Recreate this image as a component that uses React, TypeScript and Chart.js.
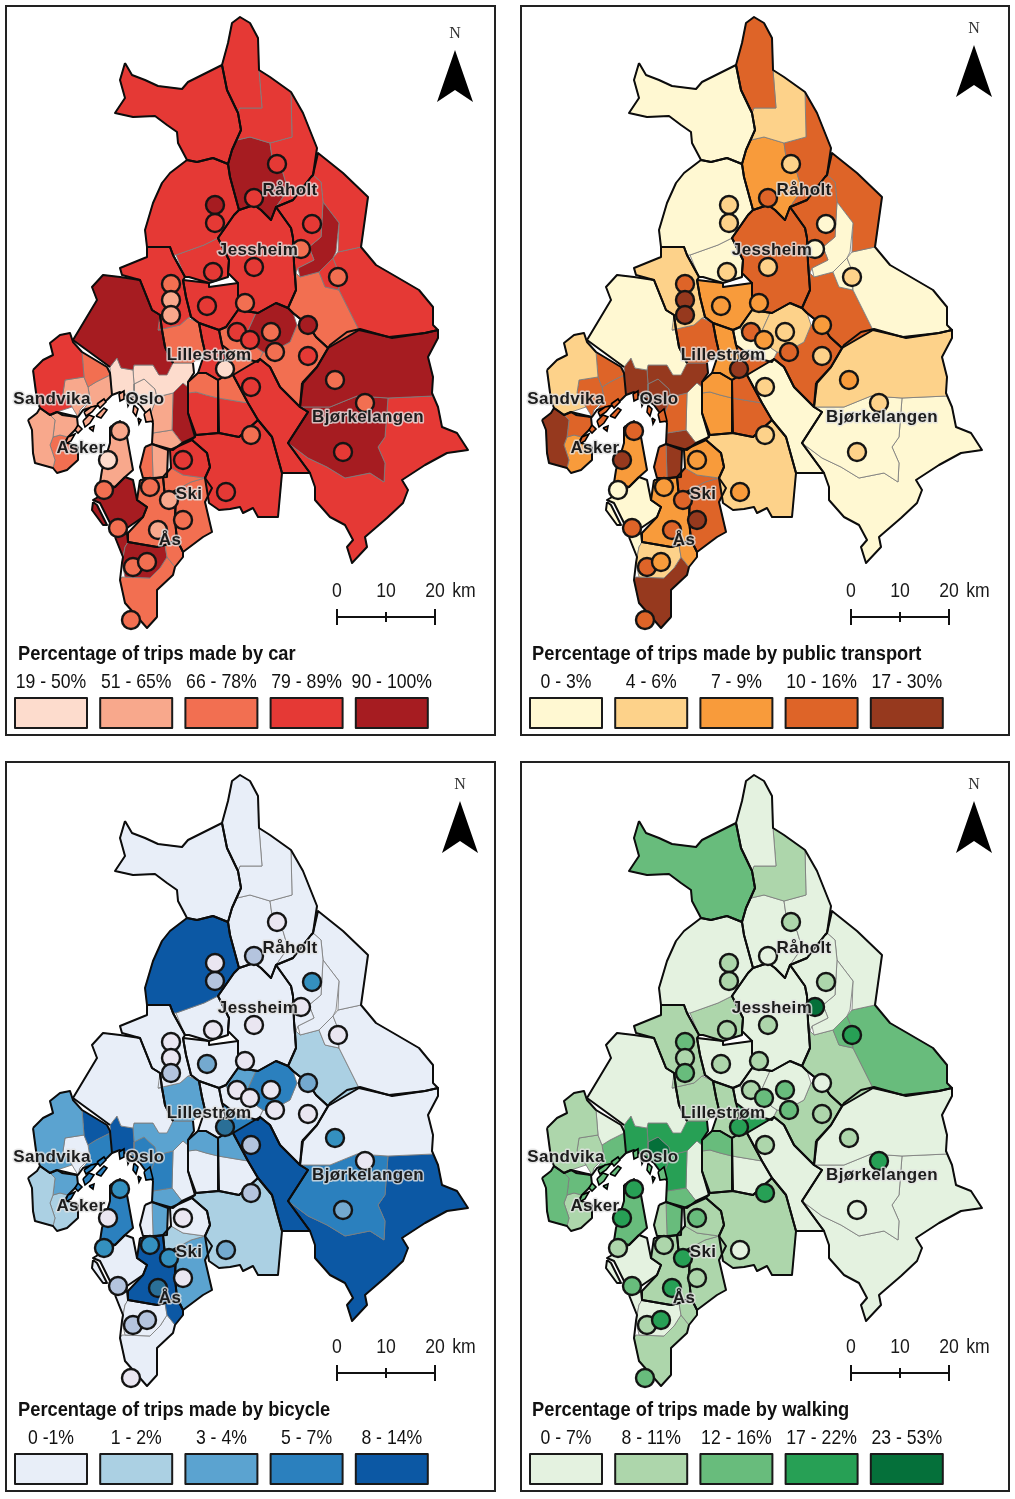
import React, { useEffect, useRef } from "react";
import { Chart, registerables } from "chart.js";
Chart.register(...registerables);

type P = number[];
// ---- region shapes, map units ----
const nw: P[] = [[125,63],[132,75],[145,80],[158,86],[182,89],[188,82],[222,65],[227,90],[238,113],[241,130],[232,150],[228,164],[213,158],[197,162],[187,160],[178,143],[177,132],[167,125],[155,116],[133,117],[115,113],[125,98],[120,80]];
const spire: P[] = [[222,65],[228,43],[232,23],[240,17],[250,23],[258,38],[259,70],[262,108],[240,108],[238,113],[227,90]];
const midNorth: P[] = [[240,108],[262,108],[259,70],[270,77],[291,92],[292,137],[270,143],[250,137],[237,140],[241,130],[238,113]];
const northEast: P[] = [[291,92],[303,113],[317,148],[313,175],[311,177],[293,200],[276,207],[288,190],[283,173],[272,157],[270,143],[292,137]];
const raholt: P[] = [[237,140],[250,137],[270,143],[272,157],[283,173],[288,190],[276,207],[271,220],[261,210],[254,205],[239,210],[230,177],[228,164],[232,150]];
const nannestadN: P[] = [[187,160],[197,162],[213,158],[228,164],[230,177],[239,210],[234,215],[218,238],[204,245],[176,255],[173,255],[170,247],[147,247],[145,230],[153,203],[162,183],[170,173]];
const nannestadS: P[] = [[176,255],[204,245],[218,238],[229,260],[228,273],[228,277],[209,283],[189,277],[185,277]];
const jessheim: P[] = [[239,210],[254,205],[261,210],[271,220],[276,207],[291,228],[293,238],[294,263],[296,290],[288,308],[276,303],[258,313],[238,310],[238,283],[228,273],[229,260],[218,238],[234,215]];
const nesWest: P[] = [[313,175],[321,182],[323,202],[321,237],[309,247],[314,260],[298,268],[296,273],[294,263],[293,238],[291,228],[276,207],[293,200],[311,177]];
const nesPatch: P[] = [[323,202],[339,223],[336,252],[333,258],[319,272],[300,277],[298,268],[314,260],[309,247],[321,237]];
const nesEast: P[] = [[318,153],[343,173],[368,197],[361,247],[338,252],[339,223],[323,202],[321,182],[313,175]];
const nesNE: P[] = [[361,247],[376,265],[395,276],[419,290],[433,307],[433,325],[438,330],[425,333],[389,337],[359,330],[339,290],[339,273],[333,258],[338,252]];
const nesSmall: P[] = [[319,272],[333,258],[339,273],[339,290],[325,287]];
const nesSouth: P[] = [[296,273],[300,277],[319,272],[325,287],[339,290],[359,330],[328,348],[316,337],[308,325],[293,313],[288,308],[296,290]];
const hvam: P[] = [[183,280],[209,283],[209,287],[238,283],[238,310],[226,327],[219,330],[199,323],[191,317],[186,297]];
const column: P[] = [[147,247],[170,247],[173,255],[185,277],[183,280],[186,297],[191,317],[188,318],[180,325],[158,330],[160,315],[152,310],[140,280],[122,275],[120,268],[147,257]];
const columnSouth: P[] = [[158,330],[180,325],[188,318],[199,323],[202,339],[205,352],[193,363],[173,363],[165,347],[162,330]];
const forest: P[] = [[92,287],[103,275],[120,277],[140,280],[152,310],[160,315],[162,330],[165,347],[173,363],[167,375],[159,375],[153,365],[134,365],[133,370],[121,368],[117,358],[110,367],[73,340],[97,300]];
const lilleDark: P[] = [[256,313],[276,303],[288,308],[293,313],[297,325],[290,342],[270,353],[263,352],[257,348],[247,333]];
const lilleWest: P[] = [[226,327],[238,310],[258,313],[256,313],[247,333],[231,340]];
const lillePale: P[] = [[219,330],[226,327],[231,340],[247,333],[257,348],[263,352],[258,362],[238,357],[222,345]];
const lilleOrange: P[] = [[199,323],[219,330],[222,345],[226,360],[223,377],[218,380],[206,373],[198,373],[205,352],[202,339]];
const lilleJunction: P[] = [[222,345],[238,357],[258,362],[260,359],[233,375],[223,377],[226,360]];
const sorum: P[] = [[270,353],[290,342],[297,325],[308,325],[316,337],[328,348],[317,367],[303,383],[300,407],[280,387],[270,367],[260,359],[258,362],[263,352]];
const band: P[] = [[233,375],[260,359],[270,367],[280,387],[300,407],[308,412],[288,443],[310,473],[282,473],[272,437],[258,420],[248,403]];
const indre: P[] = [[196,435],[219,433],[239,437],[258,420],[272,437],[282,473],[278,517],[258,517],[253,508],[243,513],[240,507],[230,509],[219,510],[209,503],[205,478],[210,467],[207,453],[192,440]];
const enebakkN: P[] = [[188,382],[198,373],[206,373],[218,380],[218,398],[206,395],[196,392],[188,393]];
const enebakkS: P[] = [[188,393],[196,392],[206,395],[218,398],[218,433],[196,435],[195,437],[188,413]];
const fetN: P[] = [[218,380],[223,377],[233,375],[243,392],[248,403],[218,398]];
const fetS: P[] = [[218,398],[248,403],[258,420],[239,437],[219,433]];
const bjorkN: P[] = [[302,383],[317,367],[330,345],[347,332],[360,329],[392,338],[425,333],[438,330],[438,338],[428,357],[433,377],[432,393],[433,396],[388,398],[357,396],[330,407],[300,407]];
const bjorkMid: P[] = [[330,407],[357,396],[388,398],[385,437],[378,447],[385,463],[384,482],[370,473],[345,478],[327,467],[308,458],[288,443],[308,412],[300,407]];
const bjorkSE: P[] = [[433,396],[438,407],[442,427],[457,433],[468,450],[447,453],[425,465],[402,480],[408,490],[403,503],[387,518],[365,537],[367,547],[352,563],[347,547],[353,540],[345,525],[330,517],[315,500],[315,487],[310,473],[288,443],[308,458],[327,467],[345,478],[370,473],[384,482],[385,463],[378,447],[385,437],[388,398]];
const osloW: P[] = [[110,367],[117,358],[121,368],[133,370],[134,384],[134,397],[120,392],[112,395]];
const osloN: P[] = [[133,370],[134,365],[153,365],[159,375],[173,363],[193,363],[194,373],[188,382],[188,387],[183,383],[173,393],[157,397],[155,389],[144,379],[134,384]];
const osloC: P[] = [[134,384],[144,379],[155,389],[157,397],[134,397]];
const osloS: P[] = [[134,397],[157,397],[150,415],[153,423],[140,405],[130,398]];
const osloE: P[] = [[157,397],[173,393],[172,430],[153,433],[153,423],[150,415]];
const osloB: P[] = [[153,433],[172,430],[182,443],[173,450],[152,444]];
const strip: P[] = [[173,393],[183,383],[188,387],[188,413],[195,437],[182,443],[172,430]];
const baerumW: P[] = [[33,370],[43,360],[53,355],[50,343],[60,335],[70,333],[73,342],[82,352],[84,377],[65,380],[63,393],[72,407],[57,412],[50,415],[40,408],[37,400]];
const baerumNE: P[] = [[82,352],[107,367],[110,375],[96,382],[88,387],[84,377]];
const baerumC: P[] = [[84,377],[88,387],[90,400],[80,410],[78,417],[72,407],[63,393],[65,380]];
const baerumE: P[] = [[88,387],[96,382],[110,375],[112,395],[107,400],[100,405],[83,410],[90,400]];
const askerW: P[] = [[28,420],[37,413],[40,408],[50,415],[55,420],[53,437],[50,445],[55,460],[53,468],[35,463],[33,453],[32,430]];
const askerN: P[] = [[50,415],[57,412],[62,415],[77,417],[78,427],[68,437],[60,435],[53,437],[55,420]];
const askerS: P[] = [[53,437],[60,435],[68,437],[65,442],[78,447],[78,460],[67,470],[57,473],[53,468],[55,460],[50,445]];
const nesodden: P[] = [[110,427],[120,421],[127,437],[133,470],[125,477],[115,487],[100,483],[102,470],[110,443]];
const frogn: P[] = [[125,477],[133,480],[137,500],[147,507],[143,517],[127,528],[110,523],[100,503],[93,500],[115,487]];
const peninsula: P[] = [[93,502],[97,505],[107,525],[103,525],[92,510]];
const oppN: P[] = [[145,447],[152,444],[153,478],[143,478],[140,467]];
const oppS: P[] = [[152,444],[168,450],[167,477],[153,478]];
const skiU: P[] = [[170,450],[192,440],[207,453],[210,467],[205,478],[183,475],[171,468]];
const skiB: P[] = [[163,477],[171,468],[183,475],[205,478],[191,482],[176,490],[165,497]];
const skiE: P[] = [[191,482],[205,478],[212,488],[205,502],[212,532],[203,537],[183,552],[177,540],[175,520],[176,490]];
const aas: P[] = [[140,480],[157,478],[163,477],[165,497],[176,490],[175,520],[177,540],[165,545],[157,547],[128,542],[128,533],[143,517],[147,507],[137,500]];
const aasS: P[] = [[165,545],[177,540],[183,552],[183,557],[175,567],[167,557]];
const vestbyN: P[] = [[125,547],[128,542],[157,547],[165,545],[167,557],[160,568],[150,578],[125,577],[122,563]];
const vestbyS: P[] = [[122,577],[150,578],[160,568],[167,557],[175,567],[173,575],[157,590],[157,617],[147,628],[125,603],[120,580]];
const drobak: P[] = [[110,523],[127,528],[128,533],[128,542],[125,547],[123,557],[115,537]];

const regionShapes: P[][] = [nw,spire,midNorth,northEast,raholt,nannestadN,nannestadS,jessheim,nesWest,nesPatch,nesEast,nesNE,nesSmall,nesSouth,hvam,column,columnSouth,forest,lilleDark,lilleWest,lillePale,lilleOrange,lilleJunction,sorum,band,indre,enebakkN,enebakkS,fetN,fetS,bjorkN,bjorkMid,bjorkSE,osloW,osloN,osloC,osloS,osloE,osloB,strip,baerumW,baerumNE,baerumC,baerumE,askerW,askerN,askerS,nesodden,frogn,peninsula,oppN,oppS,skiU,skiB,skiE,aas,aasS,vestbyN,vestbyS,drobak];
// class (1-5) of every region in each map
const carClasses = [4,4,4,4,5,4,4,4,4,5,4,4,4,3,4,4,3,5,5,4,3,4,3,3,4,4,3,4,3,4,5,5,4,1,1,1,1,2,2,5,4,3,2,2,2,2,3,2,5,5,3,2,4,3,3,3,3,5,3,5];
const ptClasses = [1,4,2,4,3,1,1,4,4,1,4,1,1,4,3,2,4,1,2,2,1,3,4,4,1,2,3,3,4,4,2,1,1,5,5,5,5,4,5,1,2,4,4,4,5,4,3,3,1,1,4,5,3,4,4,3,3,2,5,1];
const bikeClasses = [1,1,1,1,1,5,1,1,1,1,1,1,1,2,1,1,3,1,4,3,1,1,4,1,5,2,3,1,3,1,1,4,5,5,3,4,4,4,3,1,3,5,1,4,2,3,2,4,1,1,1,3,1,2,3,5,5,1,1,1];
const walkClasses = [3,1,2,1,1,1,2,1,1,1,1,3,3,2,1,2,2,1,1,1,1,2,4,2,1,2,3,2,2,1,1,1,1,4,4,5,4,4,3,1,2,1,2,3,3,3,2,3,1,1,2,3,2,2,2,2,2,1,2,1];

// ---- black municipality borders (closed) ----
const bNes: P[] = [[313,175],[318,153],[343,173],[368,197],[361,247],[376,265],[395,276],[419,290],[433,307],[433,325],[438,330],[425,333],[389,337],[359,330],[328,348],[316,337],[308,325],[293,313],[288,308],[296,290],[294,263],[293,238],[291,228],[276,207],[293,200],[311,177],[313,175]];
const bNorth: P[] = [[222,65],[228,43],[232,23],[240,17],[250,23],[258,38],[259,70],[270,77],[291,92],[303,113],[317,148],[313,175],[311,177],[293,200],[276,207],[271,220],[261,210],[254,205],[239,210],[230,177],[228,164],[232,150],[241,130],[238,113],[227,90],[222,65]];
const bMid: P[] = [[226,327],[238,310],[258,313],[276,303],[288,308],[293,313],[308,325],[316,337],[328,348],[317,367],[303,383],[300,407],[280,387],[270,367],[260,359],[258,362],[238,357],[222,345],[219,330],[226,327]];
const bNanne: P[] = [...nannestadN.slice(0,8),[218,238],[229,260],[228,273],[228,277],[209,283],[189,277],[185,277],[173,255],[170,247],[147,247],[145,230],[153,203],[162,183],[170,173],[187,160]];
const bBjork: P[] = [[302,383],[317,367],[330,345],[347,332],[360,329],[392,338],[425,333],[438,330],[438,338],[428,357],[433,377],[432,393],[438,407],[442,427],[457,433],[468,450],[447,453],[425,465],[402,480],[408,490],[403,503],[387,518],[365,537],[367,547],[352,563],[347,547],[353,540],[345,525],[330,517],[315,500],[315,487],[310,473],[288,443],[308,412],[300,407],[302,383]];
const bEnebakk: P[] = [[188,382],[198,373],[206,373],[218,380],[218,433],[196,435],[188,413],[188,382]];
const bFet: P[] = [[218,380],[223,377],[233,375],[248,403],[258,420],[239,437],[219,433],[218,380]];
const bBaerum: P[] = [[33,370],[43,360],[53,355],[50,343],[60,335],[70,333],[73,342],[82,352],[107,367],[110,373],[112,395],[107,400],[100,405],[83,410],[78,417],[57,412],[50,415],[40,408],[37,400],[33,370]];
const bAsker: P[] = [[28,420],[37,413],[40,408],[50,415],[57,412],[62,415],[77,417],[78,427],[68,437],[65,442],[78,447],[78,460],[67,470],[57,473],[53,468],[35,463],[33,453],[32,430],[28,420]];
const bOpp: P[] = [[145,447],[152,444],[168,450],[167,477],[153,478],[143,478],[140,467],[145,447]];
const bSki: P[] = [[170,450],[192,440],[207,453],[210,467],[205,478],[212,488],[205,502],[212,532],[203,537],[183,552],[177,540],[175,520],[176,490],[165,497],[163,477],[171,468],[170,450]];
const bAas: P[] = [[140,480],[157,478],[163,477],[165,497],[176,490],[175,520],[177,540],[165,545],[157,547],[128,542],[128,533],[143,517],[147,507],[137,500],[140,480]];
const bVestby: P[] = [[115,537],[127,533],[128,542],[157,547],[165,545],[177,540],[183,552],[183,557],[175,567],[173,575],[157,590],[157,617],[147,628],[125,603],[120,580],[122,563],[123,557],[115,537]];
// open border runs
const bOslo: P[] = [[193,363],[194,373],[188,382],[188,413],[195,437],[182,443],[173,450],[152,444],[153,423],[140,405],[130,398],[120,392],[112,395]];
const bForest: P[] = [[110,367],[73,340],[97,300],[92,287],[103,275],[120,277],[140,280],[152,310],[160,315],[162,330],[165,347],[173,363]];
const bColumn: P[] = [[173,363],[165,347],[162,330],[160,315],[152,310],[140,280],[122,275],[120,268],[147,257],[147,247],[170,247],[173,255],[185,277],[183,280],[186,297],[191,317],[199,323],[202,339],[205,352]];
const closedBorders: P[][] = [nw,bNorth,bNes,bNanne,jessheim,hvam,bMid,lilleOrange,band,indre,bEnebakk,bFet,bBjork,bBaerum,bAsker,bOpp,bSki,bAas,bVestby,nesodden,frogn,peninsula];
const openBorders: P[][] = [bOslo,bForest,bColumn];
// skerries in the fjord
const isles: P[][] = [
  [[84,412],[91,407],[97,406],[92,412],[86,416]],
  [[97,404],[104,399],[106,402],[100,408]],
  [[83,421],[89,415],[94,417],[90,423],[85,427]],
  [[96,416],[104,408],[107,410],[101,418]],
  [[78,425],[82,429],[78,433],[75,430]],
  [[68,437],[75,434],[71,441],[65,444]],
  [[89,428],[94,426],[93,431]],
  [[119,394],[124,391],[124,399],[120,401]],
  [[134,405],[138,409],[136,416],[133,412]],
  [[144,414],[150,409],[153,421],[146,422]],
  [[127,400],[130,402],[128,406]],
  [[138,418],[141,420],[139,424]],
];

// ---- survey points ----
const pointXs = [277,215,215,254,312,213,254,301,338,171,171,171,207,245,237,250,271,275,308,308,225,251,335,365,343,251,226,120,108,104,118,150,169,183,183,158,133,147,131];
const pointYs = [164,205,223,198,224,272,267,249,277,284,300,315,306,303,332,340,332,352,325,356,369,387,380,403,452,435,492,431,460,490,528,487,500,520,460,530,567,562,620];
const carPoints = [4,5,4,4,4,4,4,3,3,3,2,2,4,3,4,4,3,3,5,4,1,4,3,3,4,3,4,2,1,3,3,3,2,3,4,2,3,3,3];
const ptPoints = [2,2,2,4,1,2,2,1,2,4,5,5,3,3,4,3,2,4,3,2,5,2,3,2,2,2,3,4,5,1,4,3,4,5,3,4,4,3,4];
const bikePoints = [1,1,2,2,4,1,1,1,1,1,1,2,3,1,1,1,1,1,3,1,5,2,4,1,3,2,3,4,1,4,2,4,4,1,1,5,2,2,1];
const walkPoints = [2,2,2,1,2,2,2,5,4,3,2,3,2,2,2,3,3,3,1,2,4,2,2,4,1,4,1,4,4,2,3,2,4,2,3,4,2,4,3];

// ---- colours & legends ----
const reds = ["#FDDCCD","#F8A88C","#F26F51","#E53935","#A61C21"];
const oranges = ["#FFF8D2","#FDD28A","#F89B3B","#DE6428","#96391E"];
const blues = ["#E8EEF8","#ABD0E3","#5BA3D0","#2B80BE","#0C58A4"];
const greens = ["#E4F2E0","#ADD6AB","#68BC7C","#27A055","#05703A"];
const bluePoints = ["#EAE6F1","#B4C4DE","#74A9CF","#3490BF","#2A6F97"];
const placeNames = ["Råholt","Jessheim","Lillestrøm","Sandvika","Oslo","Bjørkelangen","Asker","Ski","Ås"];
const placeXs = [290,258,209,52,145,368,81,189,170];
const placeYs = [190,250,355,399,399,417,448,494,540];
const carLegend = ["19 - 50%","51 - 65%","66 - 78%","79 - 89%","90 - 100%"];
const ptLegend = ["0 - 3%","4 - 6%","7 - 9%","10 - 16%","17 - 30%"];
const bikeLegend = ["0 -1%","1 - 2%","3 - 4%","5 - 7%","8 - 14%"];
const walkLegend = ["0 - 7%","8 - 11%","12 - 16%","17 - 22%","23 - 53%"];
const scaleTicks = [0,10,20];

const W = 500, H = 741;
const SANS = '"Liberation Sans",Arial,sans-serif';

function squeezed(c: any, text: string, x: number, y: number, sx: number) {
  c.save();
  c.translate(x, y);
  c.scale(sx, 1);
  c.fillText(text, 0, 0);
  c.restore();
}

const decor = {
  id: "decor",
  afterDatasetsDraw(chart: any, _a: any, o: any) {
    const c = chart.ctx;
    const X = (v: number) => chart.scales.x.getPixelForValue(v);
    const Y = (v: number) => chart.scales.y.getPixelForValue(v);
    c.save();
    // frame
    c.strokeStyle = "#222"; c.lineWidth = 2;
    c.strokeRect(X(o.box[0]), Y(o.box[1]), o.box[2] - o.box[0], o.box[3] - o.box[1]);
    // north arrow
    const [nx, ny] = o.north;
    c.fillStyle = "#333"; c.textAlign = "center"; c.textBaseline = "middle";
    c.font = '16px "Liberation Serif",serif';
    c.fillText("N", X(nx), Y(ny));
    c.fillStyle = "#000"; c.beginPath();
    c.moveTo(X(nx), Y(ny + 16)); c.lineTo(X(nx - 18), Y(ny + 68)); c.lineTo(X(nx), Y(ny + 56)); c.lineTo(X(nx + 18), Y(ny + 68));
    c.closePath(); c.fill();
    // scale bar
    const f = o.foot;
    c.strokeStyle = "#111"; c.lineWidth = 2;
    const sx = o.scaleX, sy = 617 + f;
    c.beginPath(); c.moveTo(X(sx), Y(sy)); c.lineTo(X(sx + 98), Y(sy));
    [[0, 8], [49, 5], [98, 8]].forEach(([d, h]) => { c.moveTo(X(sx + d), Y(sy - h)); c.lineTo(X(sx + d), Y(sy + h)); });
    c.stroke();
    c.fillStyle = "#1a1a1a"; c.font = `21px ${SANS}`;
    scaleTicks.forEach((t, i) => squeezed(c, String(t), X(sx + i * 49), Y(591 + f), 0.84));
    squeezed(c, "km", X(sx + 127), Y(591 + f), 0.84);
    // place names
    c.font = `bold 17px ${SANS}`; c.lineJoin = "round";
    (c as any).letterSpacing = "0.35px";
    placeNames.forEach((n, i) => {
      c.strokeStyle = "rgba(225,225,225,0.8)"; c.lineWidth = 3;
      c.strokeText(n, X(placeXs[i]), Y(placeYs[i]));
      c.fillStyle = "#1c1c1c";
      c.fillText(n, X(placeXs[i]), Y(placeYs[i]));
    });
    (c as any).letterSpacing = "0px";
    // legend
    c.textAlign = "left"; c.fillStyle = "#111"; c.font = `bold 20px ${SANS}`;
    squeezed(c, o.title, X(18), Y(654 + f), 0.915);
    c.textAlign = "center"; c.font = `21px ${SANS}`;
    o.legend.forEach((t: string, i: number) => {
      const bx = o.legendX + i * 85.2;
      c.fillStyle = o.colors[i];
      c.fillRect(X(bx), Y(698 + f), 72, 30);
      c.strokeStyle = "#1a1a1a"; c.lineWidth = 2;
      c.strokeRect(X(bx), Y(698 + f), 72, 30);
      c.fillStyle = "#111";
      squeezed(c, t, X(bx + 36), Y(682 + f), 0.84);
    });
    c.restore();
  },
};

function MapPanel(props: any) {
  const ref = useRef<HTMLCanvasElement>(null);
  useEffect(() => {
    const { colors, classes, pointClasses, pointColors } = props;
    const datasets: any[] = [];
    const xy = (s: P[], close = true) => {
      const d = s.map(([x, y]) => ({ x, y }));
      if (close) d.push({ x: s[0][0], y: s[0][1] });
      return d;
    };
    regionShapes.forEach((s, i) => datasets.push({
      data: xy(s), showLine: true, fill: "shape", backgroundColor: colors[classes[i] - 1],
      borderColor: "rgba(125,125,125,0.85)", borderWidth: 1, pointRadius: 0, order: 3, tension: 0, clip: false,
    }));
    const border = (s: P[], close: boolean) => datasets.push({
      data: xy(s, close), showLine: true, fill: false, borderColor: "#0c0c0c", borderWidth: 2,
      pointRadius: 0, order: 2, tension: 0, borderJoinStyle: "round", clip: false,
    });
    closedBorders.forEach((s) => border(s, true));
    openBorders.forEach((s) => border(s, false));
    const isleColor = colors[classes[regionShapes.indexOf(baerumE)] - 1];
    isles.forEach((s) => datasets.push({
      data: xy(s), showLine: true, fill: "shape", backgroundColor: isleColor, borderColor: "#000", borderWidth: 1.6, pointRadius: 0, order: 1, clip: false,
    }));
    datasets.push({
      data: pointXs.map((x, i) => ({ x, y: pointYs[i] })),
      showLine: false, order: 0, clip: false, pointRadius: 9, pointBorderWidth: 2.4, pointBorderColor: "#141414",
      pointBackgroundColor: pointClasses.map((k: number) => pointColors[k - 1]),
    });
    const chart = new Chart(ref.current!, {
      type: "scatter",
      data: { datasets },
      options: {
        responsive: false, animation: false, layout: { padding: 0, autoPadding: false },
        scales: {
          x: { type: "linear", display: false, min: 0, max: W },
          y: { type: "linear", display: false, reverse: true, min: 0, max: H },
        },
        plugins: {
          legend: { display: false }, tooltip: { enabled: false },
          decor: { box: props.box, north: props.north, foot: props.foot, scaleX: props.scaleX, title: props.title, legend: props.legend, legendX: props.legendX, colors },
        } as any,
      },
      plugins: [decor as any],
    });
    return () => chart.destroy();
  }, []);
  return <canvas ref={ref} width={W} height={H} style={{ position: "absolute", left: props.left, top: props.top, width: W, height: H }} />;
}

export default function App() {
  return (
    <div style={{ position: "fixed", left: 0, top: 0, width: 1015, height: 1499, overflow: "hidden", background: "#fff" }}>
      <MapPanel left={0} top={0} box={[6,6,495,735]} north={[455,34]} foot={0} scaleX={337} legendX={15} title="Percentage of trips made by car" legend={carLegend} colors={reds} classes={carClasses} pointClasses={carPoints} pointColors={reds} />
      <MapPanel left={514} top={0} box={[7,6,495,735]} north={[460,29]} foot={0} scaleX={337} legendX={16} title="Percentage of trips made by public transport" legend={ptLegend} colors={oranges} classes={ptClasses} pointClasses={ptPoints} pointColors={oranges} />
      <MapPanel left={0} top={758} box={[6,4,495,733]} north={[460,27]} foot={-2} scaleX={337} legendX={15} title="Percentage of trips made by bicycle" legend={bikeLegend} colors={blues} classes={bikeClasses} pointClasses={bikePoints} pointColors={bluePoints} />
      <MapPanel left={514} top={758} box={[7,4,495,733]} north={[460,27]} foot={-2} scaleX={337} legendX={16} title="Percentage of trips made by walking" legend={walkLegend} colors={greens} classes={walkClasses} pointClasses={walkPoints} pointColors={greens} />
    </div>
  );
}
